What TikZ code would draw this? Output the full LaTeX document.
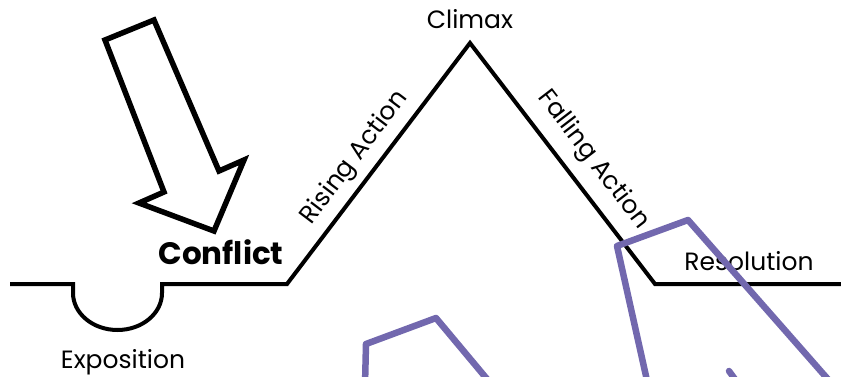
\documentclass[tikz,border=0pt]{standalone}
\usepackage{fontspec}
\setmainfont{Poppins}
\definecolor{mypurple}{HTML}{7268AE}
\begin{document}
\begin{tikzpicture}[x=1pt,y=-1pt,
  plotline/.style={line width=4pt, line join=miter, draw=black},
  arrowshape/.style={line width=5.5pt, line join=miter, draw=black, fill=white},
  penline/.style={line width=6.5pt, draw=mypurple, line join=round, line cap=round},
  lbl/.style={inner sep=0pt, font=\fontsize{25}{29}\selectfont},
  boldlbl/.style={inner sep=0pt, font=\fontsize{31}{35}\selectfont\bfseries},
]
\useasboundingbox (0,0) rectangle (841,376);
% plot line
\coordinate (s) at (10,284);
\coordinate (d1) at (73,284);
\coordinate (d2) at (162,284);
\coordinate (foot) at (287,284);
\coordinate (peak) at (470,43);
\coordinate (land) at (655,284);
\coordinate (e) at (845,284);
\draw[plotline] (s) -- (d1) -- ++(0,9) arc[start angle=180, end angle=0, x radius=44.5, y radius=37] -- (d2) -- (foot) -- (peak) -- (land) -- (e);
% hollow arrow
\draw[arrowshape] (105,40) -- (154,20) -- (219,171) -- (244,160) -- (214,231) -- (139,203) -- (164,192) -- cycle;
% labels
\node[lbl, anchor=base] (climax) at (470,28) {Climax};
\node[lbl, rotate=52.8] (rising) at (355,158) {Rising Action};
\node[lbl, rotate=-52.5] (falling) at (593,160) {Falling Action};
\node[lbl, anchor=base] (resolution) at (749,270) {Resolution};
\node[lbl, anchor=base] (exposition) at (123,368) {Exposition};
\node[boldlbl, anchor=base] (conflict) at (221,264) {Conflict};
% purple strokes
\draw[penline] (365,385) -- (366,344) -- (436,318) -- (492,385);
\draw[penline] (648,385) -- (617,246) -- (688,220) -- (833,385);
\draw[penline] (729,371) -- (737,382);
\end{tikzpicture}
\end{document}
